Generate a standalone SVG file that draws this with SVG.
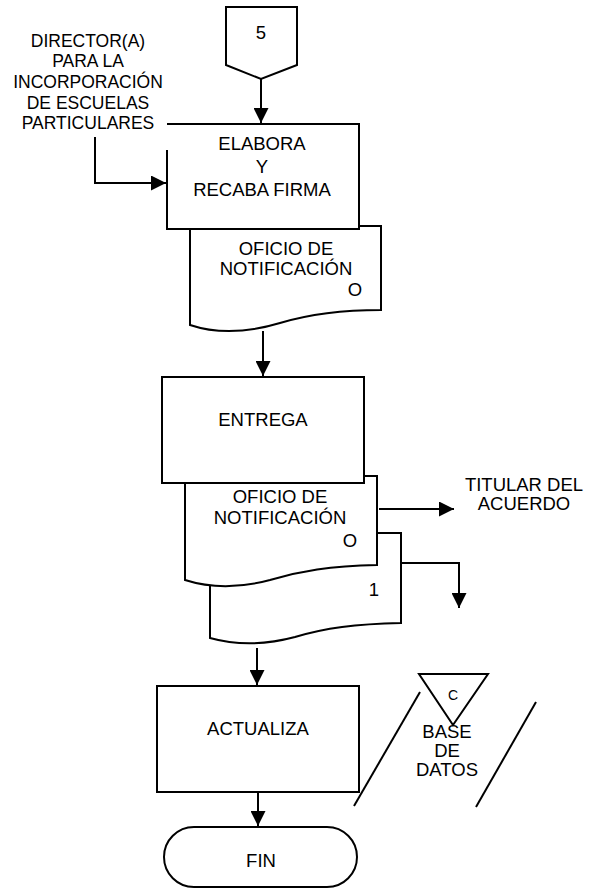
<svg xmlns="http://www.w3.org/2000/svg" width="589" height="888" viewBox="0 0 589 888">
<style>
.s{fill:#fff;stroke:#000;stroke-width:2}
.l{fill:none;stroke:#000;stroke-width:2}
text{font-family:"Liberation Sans",Arial,sans-serif;font-size:18.5px;fill:#000;text-anchor:middle}
.d{font-size:17.5px}
.sm{font-size:14px}
</style>
<defs>
<marker id="ah" markerUnits="userSpaceOnUse" markerWidth="15" markerHeight="15" refX="15" refY="7.5" orient="auto">
<path d="M0,0 L15,7.5 L0,15 Z" fill="#000"/>
</marker>
</defs>
<g id="connectors">
<path class="l" d="M261,79 V123" marker-end="url(#ah)"/>
<path class="l" d="M95,137 V183 H166" marker-end="url(#ah)"/>
<path class="l" d="M263,331 V376" marker-end="url(#ah)"/>
<path class="l" d="M379,509 H454" marker-end="url(#ah)"/>
<path class="l" d="M401,563 H459 V608" marker-end="url(#ah)"/>
<path class="l" d="M257,648 V685" marker-end="url(#ah)"/>
<path class="l" d="M258,792 V826" marker-end="url(#ah)"/>
</g>
<g id="n5">
<path class="s" d="M226,7 H297 V65 L261,79 L226,65 Z"/>
<text x="261" y="39">5</text>
</g>
<g id="director">
<text class="d" x="88" y="47">DIRECTOR(A)</text>
<text class="d" x="88" y="67">PARA LA</text>
<text class="d" x="88" y="88">INCORPORACIÓN</text>
<text class="d" x="88" y="109">DE ESCUELAS</text>
<text class="d" x="88" y="129">PARTICULARES</text>
</g>
<g id="doc1">
<path class="s" d="M190,226 H381 V310 C340,310 310,314 280,323 C250,332 220,335 190,325 Z"/>
<text x="286" y="255">OFICIO DE</text>
<text x="286" y="275">NOTIFICACIÓN</text>
<text x="355" y="296">O</text>
</g>
<g id="elabora">
<rect x="167" y="124" width="192" height="105" fill="#fff"/>
<path class="l" d="M167,150 V229 H359 V124 H167"/>
<text x="262" y="150">ELABORA</text>
<text x="262" y="173">Y</text>
<text x="262" y="196">RECABA FIRMA</text>
</g>
<g id="doc3">
<path class="s" d="M210,533 H401 V623 C355,624 325,628 295,637 C265,645 235,645 210,638 Z"/>
<text x="374" y="596">1</text>
</g>
<g id="doc2">
<path class="s" d="M185,476 H377 V565 C330,566 300,571 270,580 C240,588 210,588 185,580 Z"/>
<text x="280" y="503">OFICIO DE</text>
<text x="280" y="524">NOTIFICACIÓN</text>
<text x="350" y="547">O</text>
</g>
<g id="entrega">
<rect class="s" x="162" y="377" width="202" height="106"/>
<text x="263" y="426">ENTREGA</text>
</g>
<g id="titular">
<text x="524" y="491">TITULAR DEL</text>
<text x="524" y="510">ACUERDO</text>
</g>
<g id="actualiza">
<rect class="s" x="157" y="686" width="202" height="106"/>
<text x="258" y="735">ACTUALIZA</text>
</g>
<g id="fin">
<rect class="s" x="164" y="827" width="193" height="60" rx="30" ry="30"/>
<text x="261" y="867">FIN</text>
</g>
<g id="basedatos">
<path class="l" d="M420,692 L354,806"/>
<path class="l" d="M536,702 L476,807"/>
<path class="s" d="M419,674 H488 L453,725 Z"/>
<text class="sm" x="453" y="700">C</text>
<text x="447" y="738">BASE</text>
<text x="447" y="757">DE</text>
<text x="447" y="776">DATOS</text>
</g>
</svg>
